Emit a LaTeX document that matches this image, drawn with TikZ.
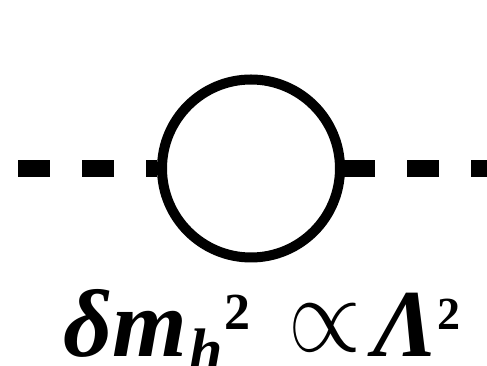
\documentclass[tikz,border=0pt]{standalone}
\usepackage{fontspec}
\setmainfont{Liberation Serif}
\begin{document}
\begin{tikzpicture}[x=1pt,y=1pt,
  loopline/.style={line width=10pt},
  scalar/.style={line width=16.5pt, dash pattern=on 32pt off 32pt, line cap=butt}]
\useasboundingbox (0,0) rectangle (487,366);
\coordinate (L) at (18,197.5);
\coordinate (R) at (487,197.5);
\node[circle, draw, loopline, minimum size=178pt, inner sep=0pt] (loop) at (251,197.5) {};
\draw[scalar] (L) -- (loop.west);
\path (loop.east) ++(-2pt,0) coordinate (Rs);
\draw[scalar] (Rs) -- (R);
\node[anchor=base west, inner sep=0pt] (lbl) at (63,9) {\fontsize{96}{100}\selectfont
  {\bfseries\itshape δm}\hspace{2pt}\raisebox{-14pt}{\fontsize{60}{64}\selectfont\bfseries\itshape h}\hspace{2pt}\raisebox{27pt}{\fontsize{52}{56}\selectfont\bfseries 2}\hspace{38pt}\raisebox{5pt}{\scalebox{3.76}[4.4]{$\propto$}}\hspace{12pt}{\bfseries\itshape Λ}\raisebox{27pt}{\fontsize{46}{50}\selectfont\bfseries 2}};
\end{tikzpicture}
\end{document}
